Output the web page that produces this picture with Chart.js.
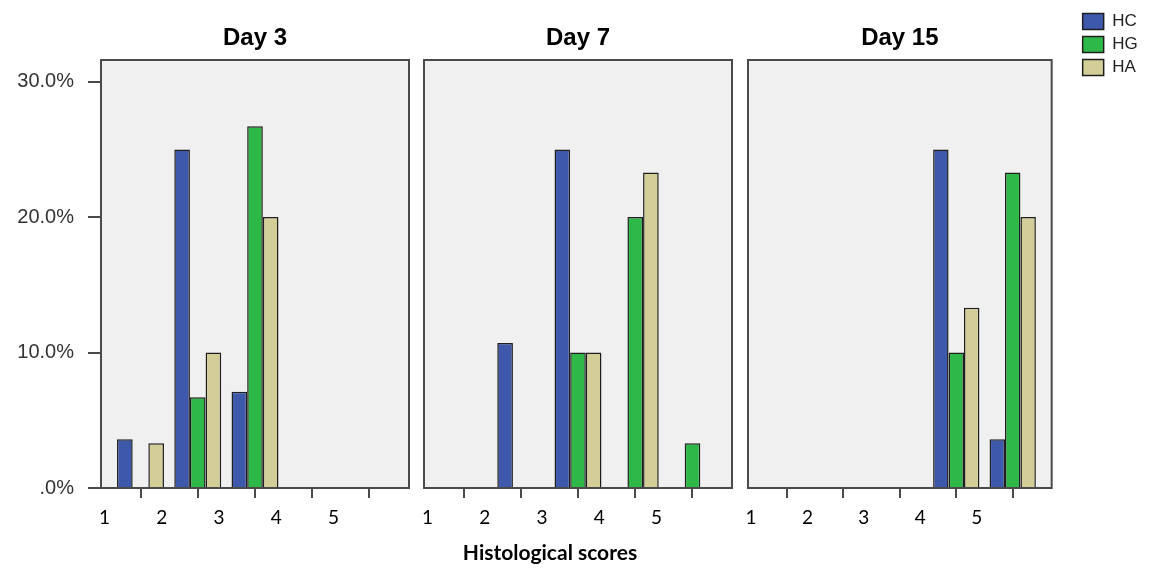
<!DOCTYPE html>
<html>
<head>
<meta charset="utf-8">
<script src="https://cdn.jsdelivr.net/npm/chart.js@4.4.1/dist/chart.umd.min.js"></script>
<style>
  html, body { margin: 0; padding: 0; background: #ffffff; }
  #wrap { position: relative; width: 1152px; height: 570px; overflow: hidden; }
  canvas { position: absolute; top: 0; }
</style>
</head>
<body>
<div id="wrap">
  <canvas id="c1" width="412" height="570" style="left:0px"></canvas>
  <canvas id="c2" width="366" height="570" style="left:368px"></canvas>
  <canvas id="c3" width="412" height="570" style="left:740px"></canvas>
</div>
<script>
// ---- data (percent of cases) ----
const scores = [1, 2, 3, 4, 5];
const seriesNames = ['HC', 'HG', 'HA'];
const panelTitles = ['Day 3', 'Day 7', 'Day 15'];

const day3HC = [3.6, 25.0, 7.1, 0, 0];
const day3HG = [0, 6.7, 26.7, 0, 0];
const day3HA = [3.3, 10.0, 20.0, 0, 0];

const day7HC = [0, 10.7, 25.0, 0, 0];
const day7HG = [0, 0, 10.0, 20.0, 3.3];
const day7HA = [0, 0, 10.0, 23.3, 0];

const day15HC = [0, 0, 0, 25.0, 3.6];
const day15HG = [0, 0, 0, 10.0, 23.3];
const day15HA = [0, 0, 0, 13.3, 20.0];

const yTickValues = [0, 10, 20, 30];
const yTickLabels = ['.0%', '10.0%', '20.0%', '30.0%'];
const xAxisTitle = 'Histological scores';

// ---- styles ----
const colors = ['#3e58ac', '#2eb848', '#d3ce97'];
const barBorder = '#1e1e1e';
const frameColor = '#4a4a4a';
const plotBg = '#f0f0f0';

const framePlugin = {
  id: 'frame',
  beforeDatasetsDraw(chart) {
    const { ctx, chartArea: a } = chart;
    ctx.save();
    ctx.fillStyle = plotBg;
    ctx.fillRect(a.left, a.top, a.right - a.left, a.bottom - a.top);
    ctx.restore();
  },
  afterDatasetsDraw(chart) {
    const { ctx, chartArea: a } = chart;
    ctx.save();
    ctx.strokeStyle = frameColor;
    ctx.lineWidth = 2;
    ctx.strokeRect(a.left, a.top, a.right - a.left, a.bottom - a.top);
    ctx.restore();
  }
};

function makeDatasets(arrs) {
  return arrs.map((vals, i) => ({
    label: seriesNames[i],
    data: scores.map((s, j) => ({ x: s, y: vals[j] })),
    backgroundColor: colors[i],
    borderColor: barBorder,
    borderWidth: 1.5,
    borderSkipped: 'start',
    barPercentage: 1.0,
    categoryPercentage: 0.82
  }));
}

function makeChart(id, arrs, title, opts) {
  const showY = opts.showY;
  const scales = {
    x: {
      type: 'linear',
      min: 0.31,
      max: 5.69,
      offset: false,
      afterFit(s) { s.height = 40; },
      border: { display: false },
      grid: { display: true, offset: false, drawOnChartArea: false, drawTicks: true, tickLength: 10, color: frameColor, lineWidth: 2 },
      ticks: {
        stepSize: 1,
        includeBounds: false,
        autoSkip: false,
        maxRotation: 0,
        labelOffset: -36,
        padding: 8,
        color: '#000000',
        font: { family: 'Lato', size: 19 },
        callback: (v) => String(v)
      }
    },
    y: {
      min: 0,
      max: 31.6,
      afterFit(s) { s.width = opts.yWidth; },
      border: { display: false },
      grid: { display: showY, drawOnChartArea: false, drawTicks: true, tickLength: 13, color: frameColor, lineWidth: 2 },
      ticks: {
        display: showY,
        stepSize: 10,
        includeBounds: false,
        padding: 14,
        color: '#333333',
        font: { family: 'Liberation Sans', size: 20 },
        callback: (v) => {
          const k = yTickValues.indexOf(v);
          return k >= 0 ? yTickLabels[k] : '';
        }
      }
    }
  };
  if (opts.rightWidth) {
    scales.y2 = {
      position: 'right',
      afterFit(s) { s.width = opts.rightWidth; },
      border: { display: false },
      grid: { display: false },
      ticks: { display: false }
    };
  }
  return new Chart(document.getElementById(id), {
    type: 'bar',
    data: { datasets: makeDatasets(arrs) },
    options: {
      responsive: false,
      animation: false,
      devicePixelRatio: 1,
      layout: { padding: opts.padding },
      scales,
      plugins: {
        tooltip: { enabled: false },
        legend: opts.legend || { display: false },
        title: {
          display: true,
          text: title,
          fullSize: false,
          color: '#000000',
          font: { family: 'Liberation Sans', size: 24, weight: 'bold', lineHeight: 1.2 },
          padding: { top: opts.titleTop, bottom: 7.2 }
        },
        subtitle: opts.subtitle || { display: false }
      }
    },
    plugins: [framePlugin]
  });
}

makeChart('c1', [day3HC, day3HG, day3HA], panelTitles[0], {
  showY: true, yWidth: 101, titleTop: 24,
  padding: { top: 0, right: 3, bottom: 42, left: 0 }
});

makeChart('c2', [day7HC, day7HG, day7HA], panelTitles[1], {
  showY: false, yWidth: 56, titleTop: 24,
  padding: { top: 0, right: 2, bottom: 0, left: 0 },
  subtitle: {
    display: true,
    position: 'bottom',
    text: xAxisTitle,
    fullSize: true,
    color: '#000000',
    font: { family: 'Lato', size: 21, weight: 'bold', lineHeight: 1.2 },
    padding: { top: 13, bottom: 3.8 }
  }
});

makeChart('c3', [day15HC, day15HG, day15HA], panelTitles[2], {
  showY: false, yWidth: 8, titleTop: 17, rightWidth: 25,
  padding: { top: 7, right: 8, bottom: 42, left: 0 },
  legend: {
    display: true,
    position: 'right',
    align: 'start',
    labels: {
      boxWidth: 21,
      boxHeight: 16,
      padding: 6,
      color: '#222222',
      font: { family: 'Liberation Sans', size: 17 }
    }
  }
});
</script>
</body>
</html>
